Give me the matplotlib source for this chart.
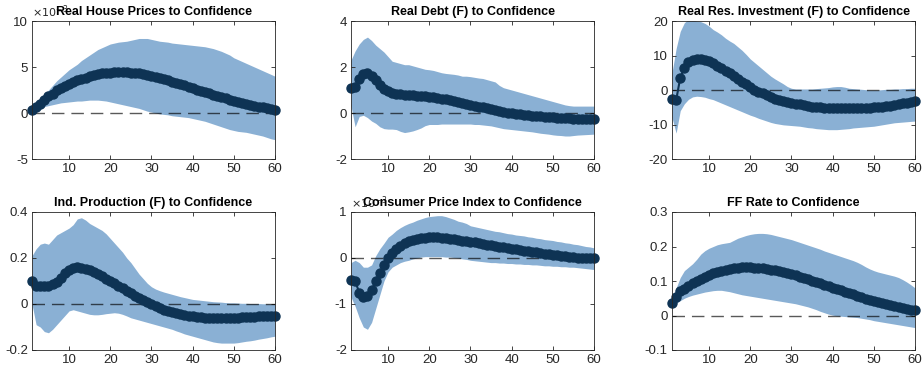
import numpy as np
import matplotlib
matplotlib.use("Agg")
import matplotlib.pyplot as plt

plt.rcParams["font.family"] = ["Liberation Sans", "DejaVu Sans"]

horizon = np.arange(1, 61)

# impulse responses (median) with 68% bands, one set per variable
house_mid = [0.3, 0.6, 1.0, 1.4, 1.8, 2.1, 2.45, 2.7, 2.95, 3.2,
             3.4, 3.55, 3.7, 3.85, 4.0, 4.1, 4.2, 4.3, 4.35, 4.4,
             4.45, 4.45, 4.45, 4.45, 4.4, 4.35, 4.3, 4.2, 4.1, 4.0,
             3.9, 3.8, 3.65, 3.55, 3.4, 3.3, 3.15, 3.0, 2.85, 2.7,
             2.55, 2.4, 2.3, 2.15, 2.0, 1.85, 1.7, 1.6, 1.45, 1.3,
             1.2, 1.1, 1.0, 0.9, 0.8, 0.7, 0.6, 0.5, 0.4, 0.3]
house_hi = [0.35, 0.9, 1.4, 2.0, 2.5, 3.0, 3.5, 3.9, 4.3, 4.7,
            5.0, 5.3, 5.7, 6.0, 6.3, 6.6, 6.9, 7.1, 7.3, 7.5,
            7.6, 7.7, 7.75, 7.8, 7.9, 8.0, 8.1, 8.1, 8.1, 8.0,
            7.9, 7.8, 7.75, 7.7, 7.6, 7.55, 7.5, 7.45, 7.4, 7.35,
            7.3, 7.25, 7.2, 7.1, 7.0, 6.85, 6.7, 6.5, 6.3, 6.0,
            5.8, 5.6, 5.4, 5.2, 5.0, 4.8, 4.6, 4.4, 4.2, 4.0]
house_lo = [0.2, 0.4, 0.55, 0.7, 0.8, 0.9, 1.0, 1.1, 1.15, 1.2,
            1.25, 1.3, 1.3, 1.35, 1.4, 1.4, 1.4, 1.35, 1.3, 1.2,
            1.1, 1.0, 0.9, 0.8, 0.7, 0.6, 0.5, 0.35, 0.2, 0.1,
            0.0, -0.1, -0.15, -0.2, -0.3, -0.35, -0.4, -0.45, -0.5, -0.6,
            -0.7, -0.8, -0.9, -1.05, -1.2, -1.35, -1.5, -1.65, -1.8, -1.9,
            -2.0, -2.05, -2.1, -2.2, -2.3, -2.4, -2.5, -2.65, -2.8, -2.9]

debt_mid = [1.1, 1.12, 1.5, 1.7, 1.72, 1.62, 1.42, 1.22, 1.05, 0.95,
            0.88, 0.84, 0.81, 0.79, 0.78, 0.77, 0.76, 0.74, 0.72, 0.70,
            0.68, 0.65, 0.62, 0.59, 0.55, 0.52, 0.48, 0.44, 0.40, 0.36,
            0.32, 0.28, 0.24, 0.20, 0.16, 0.12, 0.08, 0.05, 0.02, -0.01,
            -0.03, -0.05, -0.07, -0.09, -0.11, -0.13, -0.15, -0.17, -0.18, -0.19,
            -0.2, -0.21, -0.22, -0.23, -0.24, -0.24, -0.25, -0.25, -0.26, -0.26]
debt_hi = [2.3, 2.7, 3.0, 3.2, 3.3, 3.15, 2.95, 2.8, 2.65, 2.45,
           2.25, 2.2, 2.15, 2.1, 2.1, 2.05, 2.0, 1.95, 1.9, 1.88,
           1.85, 1.8, 1.75, 1.72, 1.7, 1.68, 1.65, 1.6, 1.6, 1.58,
           1.55, 1.52, 1.5, 1.45, 1.4, 1.35, 1.2, 1.1, 1.05, 1.0,
           0.95, 0.9, 0.85, 0.8, 0.75, 0.7, 0.65, 0.6, 0.55, 0.5,
           0.45, 0.4, 0.35, 0.32, 0.3, 0.3, 0.3, 0.3, 0.3, 0.3]
debt_lo = [0.3, -0.6, -0.15, -0.1, -0.2, -0.35, -0.45, -0.6, -0.68, -0.7,
           -0.7, -0.72, -0.8, -0.85, -0.82, -0.78, -0.72, -0.65, -0.55, -0.5,
           -0.5, -0.5, -0.48, -0.48, -0.48, -0.48, -0.48, -0.48, -0.48, -0.48,
           -0.5, -0.5, -0.52, -0.54, -0.56, -0.6, -0.64, -0.68, -0.7, -0.72,
           -0.74, -0.76, -0.78, -0.8, -0.82, -0.85, -0.88, -0.9, -0.92, -0.95,
           -0.97, -0.98, -1.0, -1.0, -0.98, -0.96, -0.95, -0.94, -0.93, -0.92]

resinv_mid = [-2.5, -3.0, 3.5, 6.5, 8.0, 8.7, 9.0, 8.9, 8.7, 8.3,
              7.7, 7.1, 6.4, 5.6, 4.8, 4.0, 3.2, 2.4, 1.6, 0.8,
              0.1, -0.5, -1.0, -1.5, -2.0, -2.5, -2.9, -3.2, -3.5, -3.8,
              -4.0, -4.2, -4.4, -4.6, -4.8, -4.9, -5.0, -5.1, -5.2, -5.3,
              -5.3, -5.3, -5.3, -5.3, -5.3, -5.2, -5.2, -5.1, -5.1, -5.0,
              -4.9, -4.8, -4.6, -4.5, -4.3, -4.1, -3.9, -3.7, -3.5, -3.3]
resinv_hi = [5.0, 12.0, 17.0, 19.5, 20.5, 20.3, 20.0, 19.8, 19.3, 18.5,
             17.5, 16.8, 16.0, 15.0, 14.2, 13.5, 12.5, 11.5, 10.3, 9.0,
             8.0, 7.0, 6.0, 5.0, 4.0, 3.2, 2.5, 1.8, 1.0, 0.5,
             0.3, 0.3, 0.3, 0.3, 0.3, 0.4, 0.5, 0.6, 0.7, 0.9,
             1.0, 1.0, 0.8, 0.5, 0.4, 0.3, 0.2, 0.1, 0.0, 0.0,
             0.0, 0.1, 0.2, 0.2, 0.3, 0.3, 0.4, 0.4, 0.5, 0.5]
resinv_lo = [-8.0, -12.5, -6.0, -4.0, -2.7, -2.0, -1.8, -1.9, -2.1, -2.5,
             -2.8, -3.3, -3.8, -4.3, -4.8, -5.3, -5.8, -6.3, -6.8, -7.3,
             -7.7, -8.2, -8.6, -9.0, -9.4, -9.7, -9.9, -10.1, -10.2, -10.3,
             -10.4, -10.5, -10.7, -10.9, -11.0, -11.2, -11.3, -11.4, -11.5, -11.5,
             -11.5, -11.4, -11.3, -11.2, -11.0, -10.9, -10.8, -10.7, -10.6, -10.5,
             -10.3, -10.1, -9.9, -9.7, -9.5, -9.4, -9.3, -9.2, -9.1, -9.0]

ip_mid = [0.10, 0.08, 0.078, 0.079, 0.08, 0.085, 0.097, 0.115, 0.135, 0.148,
          0.156, 0.16, 0.158, 0.153, 0.146, 0.138, 0.13, 0.12, 0.11, 0.10,
          0.09, 0.079, 0.068, 0.057, 0.046, 0.036, 0.026, 0.016, 0.007, -0.002,
          -0.01, -0.017, -0.024, -0.03, -0.035, -0.04, -0.044, -0.048, -0.051, -0.054,
          -0.056, -0.058, -0.059, -0.06, -0.061, -0.061, -0.061, -0.061, -0.06, -0.06,
          -0.059, -0.058, -0.057, -0.056, -0.055, -0.054, -0.053, -0.052, -0.051, -0.05]
ip_hi = [0.21, 0.24, 0.26, 0.265, 0.26, 0.28, 0.3, 0.31, 0.32, 0.33,
         0.345, 0.37, 0.375, 0.365, 0.35, 0.34, 0.33, 0.32, 0.305, 0.285,
         0.265, 0.245, 0.225, 0.2, 0.18, 0.155, 0.13, 0.11, 0.09, 0.075,
         0.065, 0.058, 0.052, 0.047, 0.042, 0.037, 0.032, 0.028, 0.024, 0.02,
         0.018, 0.016, 0.014, 0.012, 0.01, 0.009, 0.008, 0.006, 0.005, 0.005,
         0.004, 0.003, 0.003, 0.002, 0.002, 0.002, 0.001, 0.001, 0.0, 0.0]
ip_lo = [0.0, -0.09, -0.1, -0.12, -0.125, -0.11, -0.09, -0.07, -0.05, -0.03,
         -0.025, -0.03, -0.035, -0.04, -0.045, -0.047, -0.047, -0.045, -0.042, -0.04,
         -0.038, -0.04, -0.045, -0.052, -0.06, -0.065, -0.07, -0.075, -0.08, -0.085,
         -0.09, -0.095, -0.1, -0.105, -0.11, -0.117, -0.123, -0.13, -0.135, -0.14,
         -0.145, -0.15, -0.155, -0.16, -0.165, -0.168, -0.17, -0.17, -0.17, -0.17,
         -0.168, -0.165, -0.162, -0.16, -0.157, -0.153, -0.15, -0.147, -0.143, -0.14]

cpi_mid = [-0.48, -0.5, -0.75, -0.85, -0.83, -0.7, -0.5, -0.32, -0.15, 0.0,
           0.1, 0.2, 0.27, 0.32, 0.36, 0.39, 0.41, 0.43, 0.44, 0.45,
           0.45, 0.45, 0.44, 0.43, 0.42, 0.41, 0.40, 0.38, 0.37, 0.35,
           0.34, 0.32, 0.31, 0.29, 0.28, 0.26, 0.25, 0.23, 0.22, 0.2,
           0.19, 0.17, 0.16, 0.15, 0.13, 0.12, 0.11, 0.09, 0.08, 0.07,
           0.06, 0.05, 0.04, 0.03, 0.02, 0.01, 0.0, 0.0, -0.01, -0.01]
cpi_hi = [-0.1, -0.05, -0.1, -0.2, -0.2, -0.15, 0.05, 0.2, 0.32, 0.45,
          0.52, 0.6, 0.66, 0.71, 0.75, 0.78, 0.82, 0.85, 0.88, 0.9,
          0.91, 0.92, 0.92, 0.9, 0.87, 0.84, 0.8, 0.78, 0.75, 0.7,
          0.68, 0.66, 0.64, 0.62, 0.6, 0.58, 0.57, 0.55, 0.53, 0.52,
          0.5, 0.49, 0.48, 0.46, 0.45, 0.43, 0.42, 0.4, 0.39, 0.38,
          0.36, 0.35, 0.33, 0.32, 0.3, 0.29, 0.27, 0.25, 0.24, 0.22]
cpi_lo = [-0.85, -1.05, -1.3, -1.5, -1.55, -1.4, -1.1, -0.8, -0.5, -0.3,
          -0.2, -0.15, -0.1, -0.07, -0.05, -0.02, 0.0, 0.02, 0.03, 0.03,
          0.03, 0.03, 0.03, 0.02, 0.02, 0.01, 0.0, -0.02, -0.03, -0.05,
          -0.06, -0.07, -0.08, -0.09, -0.1, -0.1, -0.11, -0.11, -0.12, -0.12,
          -0.13, -0.13, -0.14, -0.14, -0.15, -0.15, -0.16, -0.17, -0.17, -0.18,
          -0.18, -0.19, -0.19, -0.2, -0.2, -0.21, -0.22, -0.23, -0.24, -0.25]

ff_mid = [0.035, 0.055, 0.07, 0.078, 0.086, 0.093, 0.1, 0.106, 0.112, 0.117,
          0.122, 0.126, 0.13, 0.133, 0.136, 0.138, 0.139, 0.14, 0.14, 0.14,
          0.139, 0.138, 0.137, 0.135, 0.133, 0.131, 0.128, 0.125, 0.122, 0.119,
          0.116, 0.112, 0.109, 0.105, 0.101, 0.097, 0.093, 0.089, 0.085, 0.081,
          0.077, 0.073, 0.069, 0.065, 0.061, 0.057, 0.053, 0.049, 0.046, 0.042,
          0.039, 0.036, 0.033, 0.03, 0.027, 0.024, 0.022, 0.02, 0.017, 0.015]
ff_hi = [0.04, 0.08, 0.11, 0.13, 0.14, 0.15, 0.163, 0.178, 0.188, 0.195,
         0.2, 0.205, 0.208, 0.21, 0.212, 0.218, 0.224, 0.228, 0.232, 0.235,
         0.237, 0.238, 0.238, 0.237, 0.235, 0.232, 0.229, 0.226, 0.223, 0.22,
         0.216, 0.212, 0.208, 0.204, 0.2, 0.196, 0.192, 0.187, 0.183, 0.179,
         0.175, 0.171, 0.167, 0.163, 0.159, 0.154, 0.148, 0.141, 0.135, 0.13,
         0.126, 0.123, 0.12, 0.117, 0.114, 0.11, 0.104, 0.097, 0.089, 0.08]
ff_lo = [0.03, 0.035, 0.043, 0.05, 0.055, 0.059, 0.062, 0.065, 0.068, 0.07,
         0.072, 0.073, 0.073, 0.071, 0.069, 0.066, 0.063, 0.06, 0.058, 0.056,
         0.054, 0.052, 0.05, 0.048, 0.046, 0.044, 0.042, 0.04, 0.038, 0.036,
         0.034, 0.031, 0.028, 0.025, 0.021, 0.017, 0.012, 0.008, 0.004, 0.001,
         -0.001, -0.002, -0.003, -0.004, -0.005, -0.006, -0.008, -0.01, -0.012, -0.015,
         -0.017, -0.019, -0.021, -0.023, -0.025, -0.027, -0.029, -0.031, -0.033, -0.035]

titles = ["Real House Prices to Confidence", "Real Debt (F) to Confidence",
          "Real Res. Investment (F) to Confidence", "Ind. Production (F) to Confidence",
          "Consumer Price Index to Confidence", "FF Rate to Confidence"]
ylims = [(-5, 10), (-2, 4), (-20, 20), (-0.2, 0.4), (-2, 1), (-0.1, 0.3)]
yticks = [[-5, 0, 5, 10], [-2, 0, 2, 4], [-20, -10, 0, 10, 20],
          [-0.2, 0, 0.2, 0.4], [-2, -1, 0, 1], [-0.1, 0, 0.1, 0.2, 0.3]]
scaled = [True, False, False, False, True, False]  # shown in units of 1e-3

panels = [(house_mid, house_lo, house_hi), (debt_mid, debt_lo, debt_hi),
          (resinv_mid, resinv_lo, resinv_hi), (ip_mid, ip_lo, ip_hi),
          (cpi_mid, cpi_lo, cpi_hi), (ff_mid, ff_lo, ff_hi)]

BAND = "#8ab0d4"
LINE = "#0e3354"
AXC = "#262626"

fig = plt.figure(figsize=(9.22, 3.70), dpi=100)
lefts = [32 / 922, 351 / 922, 672 / 922]
bottoms = [1 - 159 / 370, 1 - 350 / 370]
w, h = 243 / 922, 138 / 370

for i, (mid, lo, hi) in enumerate(panels):
    ax = fig.add_axes([lefts[i % 3], bottoms[i // 3], w, h])
    ax.fill_between(horizon, lo, hi, color=BAND, linewidth=0)
    ax.axhline(0, color="k", linestyle=(0, (9, 5)), linewidth=1.0, alpha=0.65)
    ax.plot(horizon, mid, color=LINE, linewidth=1.5, marker="o",
            markersize=6.5, markerfacecolor=LINE, markeredgecolor=LINE,
            clip_on=False)
    ax.set_xlim(1, 60)
    ax.set_ylim(*ylims[i])
    ax.set_xticks([10, 20, 30, 40, 50, 60])
    ax.set_yticks(yticks[i])
    ax.set_yticklabels([f"{v:g}" for v in yticks[i]])
    ax.tick_params(direction="in", length=3, width=0.6, colors=AXC,
                   labelsize=9.5, top=True, right=True, pad=3)
    for s in ax.spines.values():
        s.set_color(AXC)
        s.set_linewidth(0.6)
    if scaled[i]:
        ax.text(0.0, 1.01, r"$\times10^{-3}$", transform=ax.transAxes,
                fontsize=8, color=AXC, ha="left", va="bottom")
    ax.set_title(titles[i], fontsize=9, fontweight="bold", pad=4)

fig.savefig("out.png", dpi=100)
